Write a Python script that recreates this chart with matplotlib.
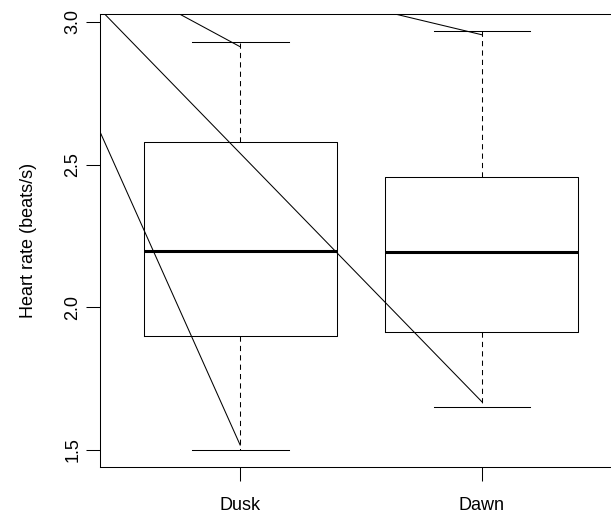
"""
Heart rate at dusk and dawn: R-style boxplot with overlaid lines.
"""

import matplotlib
matplotlib.use("Agg")
import matplotlib.pyplot as plt

# box statistics
groups = ["Dusk", "Dawn"]
whis_lo = [1.500, 1.652]
q1 = [1.900, 1.913]
median = [2.197, 2.195]
q3 = [2.578, 2.455]
whis_hi = [2.928, 2.969]

# overlaid lines (start at x=0, outside the plot, end at a group)
line_x0 = [0, 0, 0, 0]
line_y0 = [3.41, 3.41, 3.37, 3.36]
line_x1 = [1, 2, 1, 2]
line_y1 = [1.517, 1.669, 2.913, 2.955]

y_ticks = [1.5, 2.0, 2.5, 3.0]

plt.rcParams["font.family"] = ["Liberation Sans", "DejaVu Sans"]

fig = plt.figure(figsize=(6.11, 5.16), dpi=100)
ax = fig.add_axes([100 / 611, 49.3 / 516, 522 / 611, 452.7 / 516])

stats = []
for i, g in enumerate(groups):
    stats.append({"label": g, "whislo": whis_lo[i], "q1": q1[i], "med": median[i],
                  "q3": q3[i], "whishi": whis_hi[i], "fliers": []})

lw = 0.75
ax.bxp(stats, positions=[1, 2], widths=0.8, showfliers=False,
       boxprops=dict(color="black", linewidth=lw),
       medianprops=dict(color="black", linewidth=2.2, solid_capstyle="butt"),
       whiskerprops=dict(color="black", linewidth=lw, linestyle=(0, (5, 4))),
       capprops=dict(color="black", linewidth=lw))

for x0, y0, x1, y1 in zip(line_x0, line_y0, line_x1, line_y1):
    ax.plot([x0, x1], [y0, y1], color="black", linewidth=lw)

# R-like axis extents (4% padding)
lo, hi = min(whis_lo), max(whis_hi)
pad = 0.04 * (hi - lo)
ax.set_ylim(lo - pad, hi + pad)
ax.set_xlim(0.42, 2.58)

ax.set_xticks([1, 2])
ax.set_xticklabels(groups)
ax.set_yticks(y_ticks)
ax.set_yticklabels([f"{v:.1f}" for v in y_ticks], rotation=90, va="center")
ax.tick_params(axis="both", length=10, width=lw, labelsize=13)
ax.tick_params(axis="x", pad=12)
ax.tick_params(axis="y", pad=3.5)
ax.set_ylabel("Heart rate (beats/s)", fontsize=13, labelpad=19.5)

for s in ax.spines.values():
    s.set_linewidth(lw)

fig.savefig("out.png", dpi=100)
plt.close(fig)
